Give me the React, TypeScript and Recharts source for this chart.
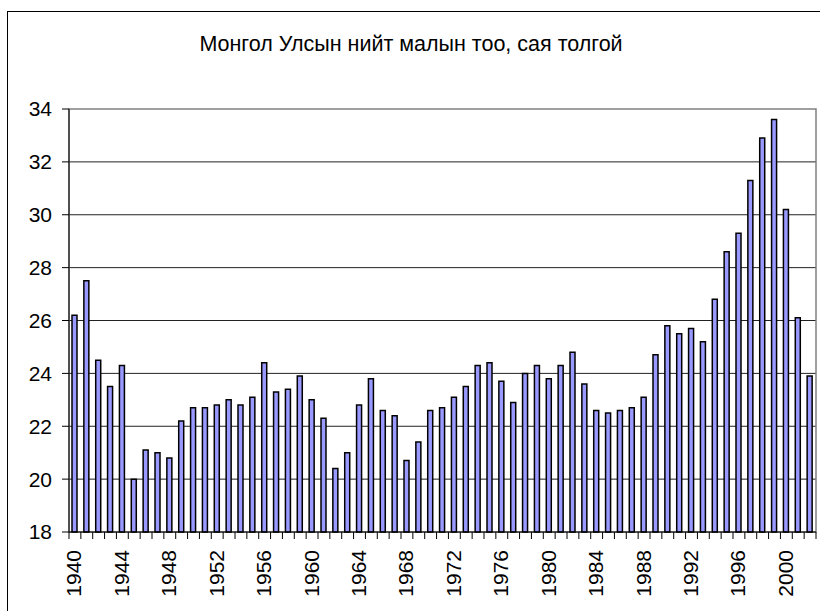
import React from 'react';
import { BarChart, Bar, XAxis, YAxis, CartesianGrid, ReferenceArea } from 'recharts';

const years = [
  1940, 1941, 1942, 1943, 1944, 1945, 1946, 1947, 1948, 1949,
  1950, 1951, 1952, 1953, 1954, 1955, 1956, 1957, 1958, 1959,
  1960, 1961, 1962, 1963, 1964, 1965, 1966, 1967, 1968, 1969,
  1970, 1971, 1972, 1973, 1974, 1975, 1976, 1977, 1978, 1979,
  1980, 1981, 1982, 1983, 1984, 1985, 1986, 1987, 1988, 1989,
  1990, 1991, 1992, 1993, 1994, 1995, 1996, 1997, 1998, 1999,
  2000, 2001, 2002,
];

// нийт мал, сая толгой
const livestock = [
  26.2, 27.5, 24.5, 23.5, 24.3, 20.0, 21.1, 21.0, 20.8, 22.2,
  22.7, 22.7, 22.8, 23.0, 22.8, 23.1, 24.4, 23.3, 23.4, 23.9,
  23.0, 22.3, 20.4, 21.0, 22.8, 23.8, 22.6, 22.4, 20.7, 21.4,
  22.6, 22.7, 23.1, 23.5, 24.3, 24.4, 23.7, 22.9, 24.0, 24.3,
  23.8, 24.3, 24.8, 23.6, 22.6, 22.5, 22.6, 22.7, 23.1, 24.7,
  25.8, 25.5, 25.7, 25.2, 26.8, 28.6, 29.3, 31.3, 32.9, 33.6,
  30.2, 26.1, 23.9,
];

const yTicks = [18, 20, 22, 24, 26, 28, 30, 32, 34];
const gridValues = [20, 22, 24, 26, 28, 30, 32];

const data = years.map((y, i) => ({ year: y, value: livestock[i] }));

const FONT = '"Liberation Sans", Arial, sans-serif';

const YearTick = (props: any) => {
  const { x, y, payload, index } = props;
  const half = payload && payload.offset ? payload.offset : 747 / years.length / 2;
  const year = Number(payload.value);
  const ty = y + 18;
  return (
    <g>
      <line x1={x - half} x2={x - half} y1={y} y2={y + 7} stroke="#000" />
      {index === years.length - 1 && (
        <line x1={x + half} x2={x + half} y1={y} y2={y + 7} stroke="#000" />
      )}
      {year % 4 === 0 && (
        <text
          x={x - 1}
          y={ty}
          dy="0.36em"
          transform={`rotate(-90, ${x - 1}, ${ty})`}
          textAnchor="end"
          fontSize={21}
          fontFamily={FONT}
          fill="#000"
        >
          {year}
        </text>
      )}
    </g>
  );
};

export default function App() {
  return (
    <div
      style={{
        position: 'absolute',
        left: 0,
        top: 0,
        width: 820,
        height: 611,
        overflow: 'hidden',
        background: '#fff',
      }}
    >
      <div
        style={{
          position: 'absolute',
          left: 7,
          top: 11,
          width: 900,
          height: 700,
          border: '1px solid #000',
        }}
      />
      <div
        style={{
          position: 'absolute',
          left: 0,
          top: 34,
          width: 822,
          textAlign: 'center',
          fontFamily: FONT,
          fontSize: 21.5,
          lineHeight: '21px',
          color: '#000',
        }}
      >
        Монгол Улсын нийт малын тоо, сая толгой
      </div>
      <div style={{ position: 'absolute', left: 0, top: 0 }}>
        <BarChart
          width={820}
          height={611}
          data={data}
          margin={{ top: 109, right: 4, left: 9, bottom: 9 }}
          barSize={5}
        >
          <CartesianGrid
            vertical={false}
            horizontalValues={gridValues}
            stroke="#222"
          />
          <ReferenceArea y1={18} y2={34} fill="none" stroke="#808080" strokeWidth={1.5} />
          <XAxis
            dataKey="year"
            interval={0}
            height={70}
            tickSize={0}
            tickMargin={0}
            tickLine={false}
            axisLine={{ stroke: '#000' }}
            tick={<YearTick />}
          />
          <YAxis
            width={60}
            domain={[18, 34]}
            ticks={yTicks}
            interval={0}
            tickSize={7}
            tickMargin={10}
            axisLine={{ stroke: '#000' }}
            tickLine={{ stroke: '#000' }}
            tick={{ fill: '#000', fontSize: 21, fontFamily: FONT }}
          />
          <Bar
            dataKey="value"
            fill="#9999FF"
            stroke="#000"
            strokeWidth={1.5}
            isAnimationActive={false}
          />
        </BarChart>
      </div>
    </div>
  );
}
